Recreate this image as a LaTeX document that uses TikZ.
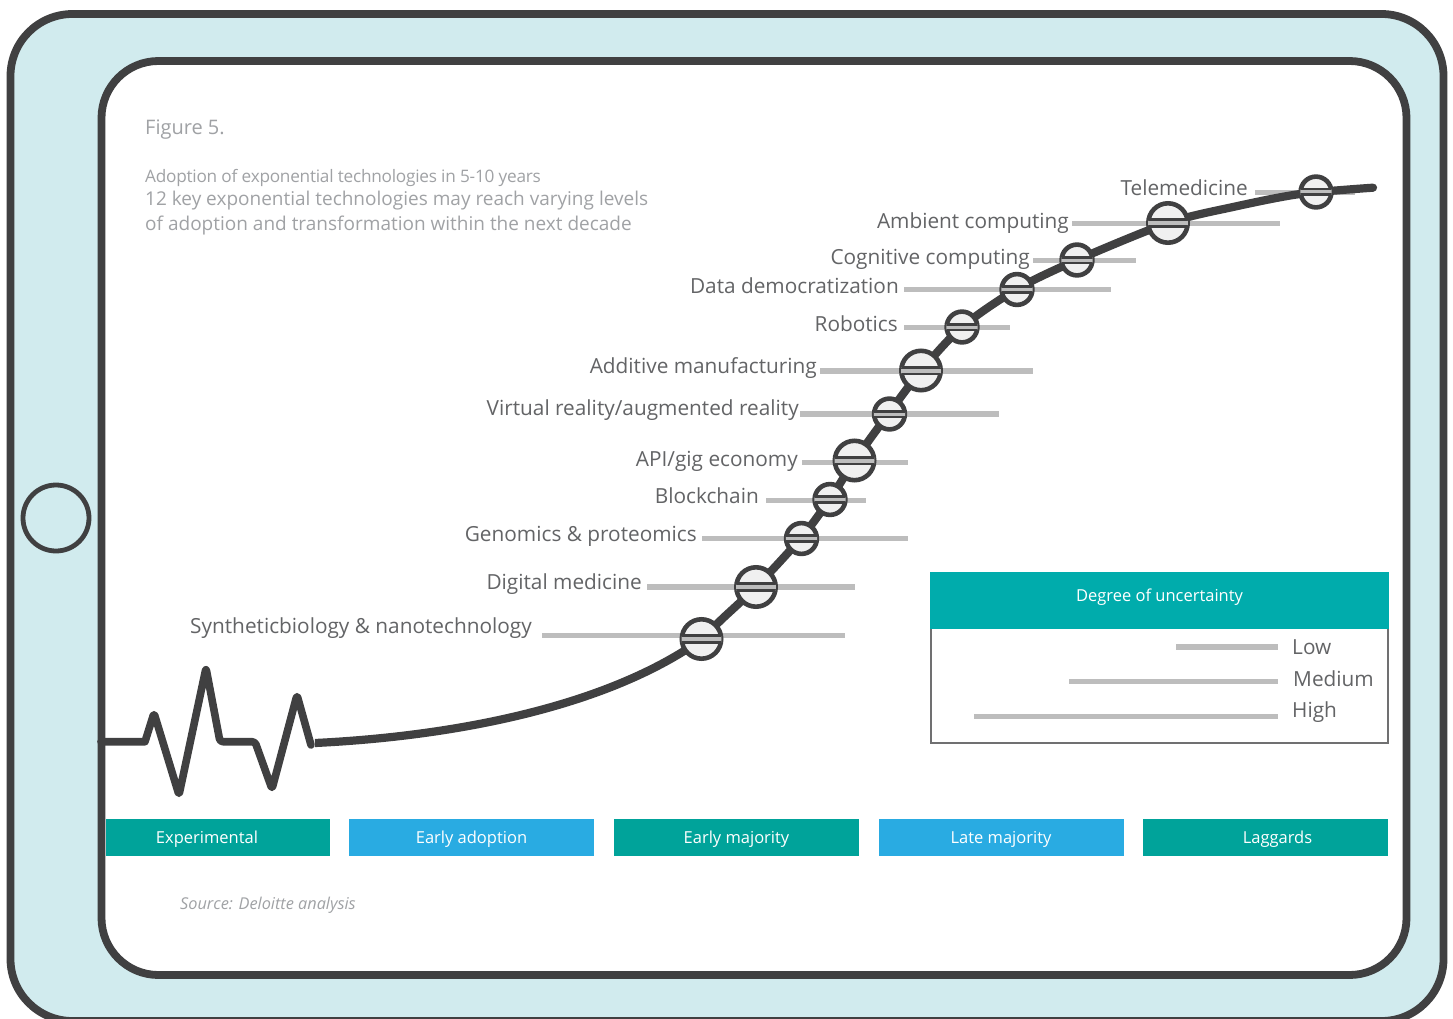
\documentclass[tikz,border=0pt]{standalone}
\usepackage{fontspec}
\setmainfont{Open Sans}
\definecolor{frame}{HTML}{404041}
\definecolor{tablet}{HTML}{D1EBEE}
\definecolor{bargray}{HTML}{BDBDBD}
\definecolor{labelgray}{HTML}{636466}
\definecolor{titlegray}{HTML}{A0A2A5}
\definecolor{teal}{HTML}{00A39A}
\definecolor{legendteal}{HTML}{00ACAC}
\definecolor{skyblue}{HTML}{29ABE2}
\definecolor{bubble}{HTML}{F0F0F0}
\newcommand{\fsz}[1]{\fontsize{#1}{#1}\selectfont}
\tikzset{
  x=1pt,y=-1pt,
  frameline/.style={draw=frame,line width=7.8pt},
  curveline/.style={draw=frame,line width=8.2pt,line join=round,line cap=round},
  whisker/.style={draw=bargray,line width=5.4pt},
  techlabel/.style={anchor=base east,inner sep=0pt,text=labelgray,font=\fsz{20.8}},
  legendlabel/.style={anchor=base west,inner sep=0pt,text=labelgray,font=\fsz{20.8}},
  band/.style={minimum height=37pt,inner sep=0pt,anchor=north west},
  bandtext/.style={anchor=base,inner sep=0pt,text=white,font=\fsz{16.5}},
  titletext/.style={anchor=base west,inner sep=0pt,text=titlegray},
  bubblenode/.style={circle,draw=frame,fill=bubble,line width=4.6pt,inner sep=0pt,outer sep=0pt}
}
\def\techlist{
 a/{Syntheticbiology \& nanotechnology}/532/633/635.5/542/845/701.5/639/22/3.5,
 b/{Digital medicine}/642/589/587/647/855/756/587/22/3.5,
 c/{Genomics \& proteomics}/697/541/538.5/702/908/801.5/538.5/17.7/2.9,
 d/{Blockchain}/759/503/500.5/766/866/830/499.5/17.7/2.9,
 e/{API/gig economy}/798/466/462.5/802/908/854.5/460.5/22/3.4,
 f/{Virtual reality/augmented reality}/799/415/414/800/999/889.5/414/17.7/2.9,
 g/{Additive manufacturing}/817/373/370.8/820/1033/921/370.5/22/3.4,
 h/{Robotics}/898/331/327.5/904/1010/962/327/17.7/2.9,
 i/{Data democratization}/899/293/289.4/904/1111/1017/289.5/17.7/2.9,
 j/{Cognitive computing}/1030/264/260.2/1033/1136/1077/260/17.7/2.9,
 k/{Ambient computing}/1069/228/223.4/1072/1280/1168/223/22/3.4,
 l/{Telemedicine}/1248/196/192.6/1255/1355/1316/192/17.7/2.9}
\begin{document}
\begin{tikzpicture}
\useasboundingbox (0,0) rectangle (1453,1019);
\clip (0,0) rectangle (1453,1019);
% tablet
\draw[frameline,fill=tablet,rounded corners=62pt] (10.5,14) rectangle (1443.5,1021);
\draw[frameline,fill=white,rounded corners=57pt] (101.5,61) rectangle (1406.5,975);
\node[circle,draw=frame,line width=4.8pt,minimum size=66pt,inner sep=0pt] (home) at (56,518) {};
% title
\node[titletext,font=\fsz{20}] (fig) at (145,134.5) {Figure 5.};
\node[titletext,font=\fsz{17.2}\addfontfeature{LetterSpace=-1.4}] (t1) at (145,182.5) {Adoption of exponential technologies in 5-10 years};
\node[titletext,font=\fsz{19}] (t2) at (145,206) {12 key exponential technologies may reach varying levels};
\node[titletext,font=\fsz{19}] (t3) at (145,230) {of adoption and transformation within the next decade};
% whiskers lie under the curve
\foreach \id/\lab/\lx/\ly/\wy/\wa/\wb/\cx/\cy/\r/\d in \techlist
{
  \node[techlabel] (lab\id) at (\lx,\ly) {\lab};
  \coordinate (wa\id) at (\wa,\wy);
  \coordinate (wb\id) at (\wb,\wy);
  \draw[whisker] (wa\id) -- (wb\id);
}
% curve
\draw[curveline,line width=7.6pt] (101,741.7) -- (145,741.7) [rounded corners=3pt] -- (154,713) -- (179,795) -- (206,668) -- (220,741.7) -- (255,741.7) -- (272,789) -- (297,695) -- (311,745);
\draw[curveline,line cap=butt] (315,743) .. controls (460,736) and (610,705) .. (702,639);
\draw[curveline] plot[smooth,tension=0.5] coordinates {(702,639) (721,620) (756,587) (801,538) (830,499) (855,460) (889,413) (921,371) (962,327) (1017,289) (1077,260) (1168,223) (1233,207) (1300,194) (1373,187.7)};
% bubbles
\foreach \id/\lab/\lx/\ly/\wy/\wa/\wb/\cx/\cy/\r/\d in \techlist
{
  \node[bubblenode,minimum size=2*\r pt-4.6pt] (c\id) at (\cx,\cy) {};
  \begin{scope}
    \clip (\cx,\cy) circle[radius=\r-2];
    \fill[bargray] (\cx-\r,\cy-\d) rectangle (\cx+\r,\cy+\d);
    \draw[frame,line width=2.8pt] (\cx-\r,\cy-\d) -- (\cx+\r,\cy-\d);
    \draw[frame,line width=2.8pt] (\cx-\r,\cy+\d) -- (\cx+\r,\cy+\d);
  \end{scope}
}
% legend
\draw[draw=frame!75,line width=2.3pt] (931,629) -- (931,743) -- (1388,743) -- (1388,629);
\fill[legendteal] (930,572) rectangle (1389,629);
\node[bandtext] (legtitle) at (1159.5,601) {Degree of uncertainty};
\coordinate (lowa) at (1176,647); \coordinate (lowb) at (1278,647);
\coordinate (meda) at (1069,681.5); \coordinate (medb) at (1278,681.5);
\coordinate (higa) at (974,716.5); \coordinate (higb) at (1278,716.5);
\draw[whisker] (lowa) -- (lowb);
\draw[whisker] (meda) -- (medb);
\draw[whisker] (higa) -- (higb);
\node[legendlabel] (low) at (1292,654) {Low};
\node[legendlabel] (med) at (1293,686) {Medium};
\node[legendlabel] (hig) at (1292,717) {High};
% bands
\node[band,fill=teal,minimum width=224pt] (b1) at (106,819) {};
\node[band,fill=skyblue,minimum width=245pt] (b2) at (349,819) {};
\node[band,fill=teal,minimum width=245pt] (b3) at (614,819) {};
\node[band,fill=skyblue,minimum width=245pt] (b4) at (879,819) {};
\node[band,fill=teal,minimum width=245pt] (b5) at (1143,819) {};
\node[bandtext] (bt1) at (207,843) {Experimental};
\node[bandtext] (bt2) at (471.5,843) {Early adoption};
\node[bandtext] (bt3) at (736.5,843) {Early majority};
\node[bandtext] (bt4) at (1001,843) {Late majority};
\node[bandtext] (bt5) at (1277.5,843) {Laggards};
% source
\node[titletext,font=\fsz{16.3}\itshape] (src) at (180,909) {Source: Deloitte analysis};
\end{tikzpicture}
\end{document}
